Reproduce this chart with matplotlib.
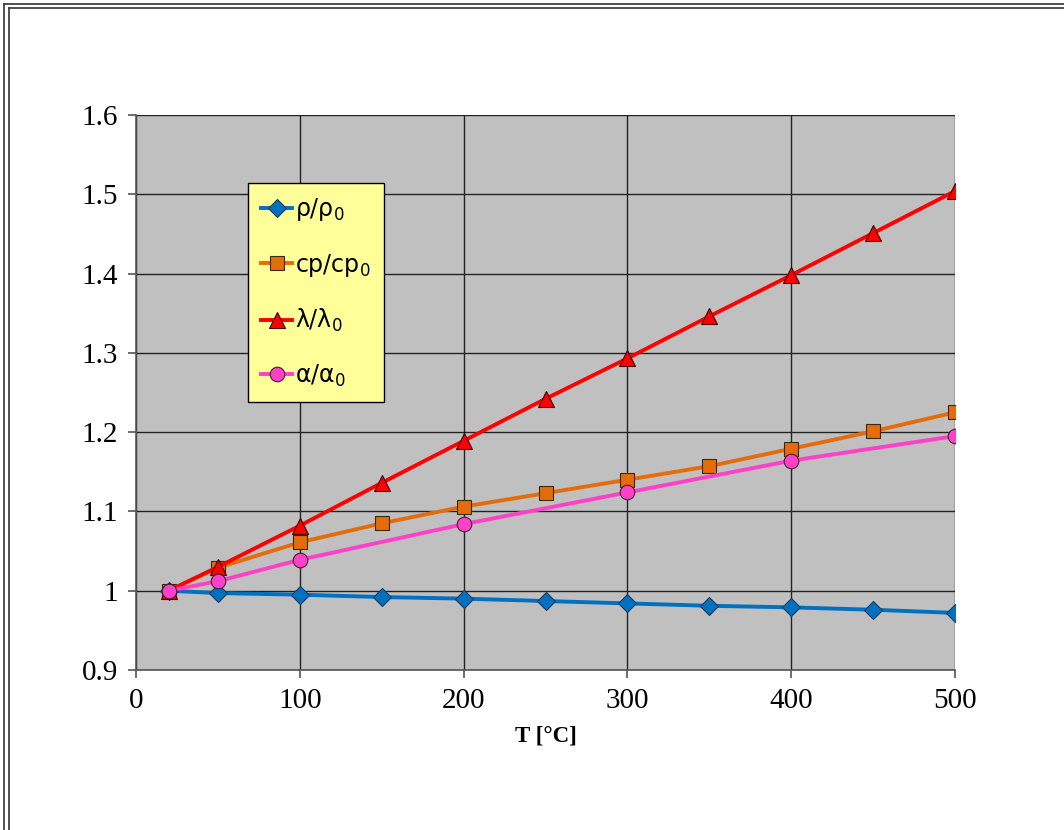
import matplotlib
matplotlib.use("Agg")
import matplotlib.pyplot as plt
from matplotlib.lines import Line2D

# temperatures [°C]
T = [20, 50, 100, 150, 200, 250, 300, 350, 400, 450, 500]
rho = [1.0, 0.997, 0.995, 0.992, 0.990, 0.987, 0.984, 0.981, 0.979, 0.976, 0.972]
cp = [1.0, 1.029, 1.061, 1.085, 1.106, 1.123, 1.140, 1.157, 1.179, 1.201, 1.225]
lam = [1.0, 1.030, 1.082, 1.136, 1.189, 1.242, 1.293, 1.346, 1.398, 1.451, 1.504]
T_alpha = [20, 50, 100, 200, 300, 400, 500]
alpha = [1.0, 1.012, 1.039, 1.084, 1.124, 1.164, 1.195]

x_ticks = [0, 100, 200, 300, 400, 500]
y_ticks = [0.9, 1.0, 1.1, 1.2, 1.3, 1.4, 1.5, 1.6]
y_labels = ["0.9", "1", "1.1", "1.2", "1.3", "1.4", "1.5", "1.6"]

plt.rcParams["mathtext.fontset"] = "custom"
plt.rcParams["mathtext.rm"] = "Open Sans"

fig = plt.figure(figsize=(10.64, 8.3), dpi=100)
ax = fig.add_axes([136 / 1064, 1 - 670 / 830, 819 / 1064, 555 / 830])
ax.set_facecolor("#C0C0C0")

ax.plot(T, rho, color="#0070C0", lw=2.8, marker="D", ms=9.5, mfc="#0070C0",
        mec="#1a3a60", mew=0.8, label=r"$\mathregular{ρ/ρ_0}$", zorder=3)
ax.plot(T, cp, color="#E46C0A", lw=2.8, marker="s", ms=10.5, mfc="#E46C0A",
        mec="#3a2a10", mew=0.8, label=r"$\mathregular{cp/cp_0}$", zorder=3)
ax.plot(T, lam, color="#FF0000", lw=2.8, marker="^", ms=11, mfc="#FF0000",
        mec="#400000", mew=0.8, label=r"$\mathregular{λ/λ_0}$", zorder=4)
ax.plot(T_alpha, alpha, color="#FF40C8", lw=2.8, marker="o", ms=10.5, mfc="#FF40C8",
        mec="#402030", mew=0.8, label=r"$\mathregular{α/α_0}$", zorder=5)

ax.set_xlim(0, 500)
ax.set_ylim(0.9, 1.6)
ax.set_xticks(x_ticks)
ax.set_yticks(y_ticks)
ax.set_yticklabels(y_labels)
ax.grid(True, color="#222222", lw=1.0)
ax.set_axisbelow(True)
for side in ["top", "right"]:
    ax.spines[side].set_visible(False)
for side in ["left", "bottom"]:
    ax.spines[side].set_color("#555555")
    ax.spines[side].set_linewidth(1.2)
ax.tick_params(direction="out", length=6, width=1.2, color="#555555",
               labelsize=21, pad=7)
for lab in ax.get_xticklabels() + ax.get_yticklabels():
    lab.set_family("Liberation Serif")
ax.set_xlabel("T [°C]", family="Liberation Serif", fontweight="bold",
              fontsize=16.5, labelpad=8)

leg = ax.legend(loc="upper left", bbox_to_anchor=(0.137, 0.877), fontsize=17,
                frameon=True, fancybox=False, facecolor="#FFFF99",
                edgecolor="black", framealpha=1.0, handlelength=1.3,
                handletextpad=0.15, labelspacing=1.2, borderpad=0.55,
                borderaxespad=0)
leg.get_frame().set_linewidth(1.0)

# double frame around the picture
for off in (4, 8.5):
    fig.add_artist(Line2D([off / 1064, off / 1064], [0, 1 - off / 830],
                          color="#333333", lw=1.2, transform=fig.transFigure))
    fig.add_artist(Line2D([off / 1064, 1], [1 - off / 830, 1 - off / 830],
                          color="#333333", lw=1.2, transform=fig.transFigure))

fig.savefig("out.png", dpi=100)
